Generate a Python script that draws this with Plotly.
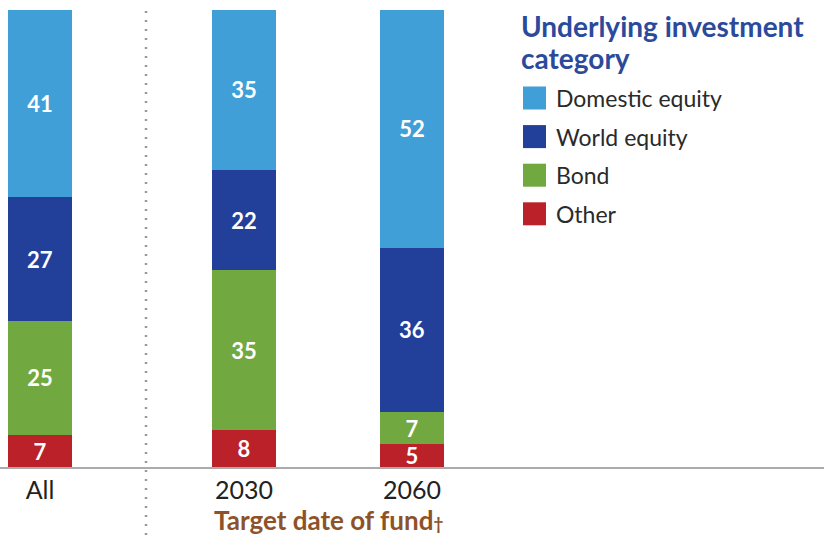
import plotly.graph_objects as go

# ---- data ----
categories = ["All", "2030", "2060"]
series_names = ["Other", "Bond", "World equity", "Domestic equity"]
other = [7, 8, 5]
bond = [25, 35, 7]
world_equity = [27, 22, 36]
domestic_equity = [41, 35, 52]
legend_title_lines = ["Underlying investment", "category"]
x_title = "Target date of fund<span style='font-size:17px'>†</span>"

# ---- layout / style ----
x_positions = [0, 1.214, 2.214]
colors = {"Other": "#BA2129", "Bond": "#72A840",
          "World equity": "#223F99", "Domestic equity": "#419FD8"}
W, H = 824, 535
plot_h = 467
FONT = "Lato"

values = {"Other": other, "Bond": bond,
          "World equity": world_equity, "Domestic equity": domestic_equity}

fig = go.Figure()
for name in series_names:
    fig.add_trace(go.Bar(
        x=x_positions, y=values[name], name=name,
        marker=dict(color=colors[name], line=dict(width=0)),
        width=0.381,
        text=values[name], texttemplate="<b>%{text}</b>",
        textposition="inside", insidetextanchor="middle", textangle=0,
        textfont=dict(color="white", size=22, family=FONT),
        showlegend=False, hoverinfo="skip",
    ))

fig.update_layout(
    barmode="stack",
    width=W, height=H,
    margin=dict(l=0, r=0, t=0, b=H - plot_h),
    plot_bgcolor="white", paper_bgcolor="white",
    uniformtext=dict(minsize=22, mode="show"),
    font=dict(family=FONT),
    xaxis=dict(range=[-0.238, 4.667], tickvals=x_positions, ticktext=categories,
               showgrid=False, zeroline=False, showline=True,
               linecolor="#ABABAB", linewidth=2, ticks="",
               tickfont=dict(size=25, color="#222222", family=FONT)),
    yaxis=dict(range=[0, 102.19], visible=False, showgrid=False),
)

# dotted separator
fig.add_shape(type="line", xref="paper", yref="paper",
              x0=146 / W, x1=146 / W, y0=-(H - plot_h) / plot_h, y1=(plot_h - 10) / plot_h,
              line=dict(color="#999999", width=2.5, dash="2px,7px"))

# x-axis title
fig.add_annotation(text="<b>" + x_title + "</b>", xref="paper", yref="paper",
                   x=328 / W, y=(plot_h - 520) / plot_h, showarrow=False,
                   xanchor="center", yanchor="middle",
                   font=dict(size=26, color="#8E5228", family=FONT))

# legend (manual)
for j, line in enumerate(legend_title_lines):
    fig.add_annotation(text="<b>" + line + "</b>", xref="paper", yref="paper",
                       x=519 / W, y=(plot_h - (26 + 32 * j)) / plot_h, showarrow=False,
                       xanchor="left", yanchor="middle", align="left",
                       font=dict(size=28, color="#2B4A9B", family=FONT))
legend_order = list(reversed(series_names))
for i, name in enumerate(legend_order):
    yc = 98 + i * 38.6
    fig.add_shape(type="rect", xref="paper", yref="paper",
                  x0=523 / W, x1=546 / W,
                  y0=(plot_h - (yc + 11.5)) / plot_h, y1=(plot_h - (yc - 11.5)) / plot_h,
                  fillcolor=colors[name], line=dict(width=0))
    fig.add_annotation(text=name, xref="paper", yref="paper",
                       x=554 / W, y=(plot_h - yc) / plot_h, showarrow=False,
                       xanchor="left", yanchor="middle",
                       font=dict(size=23, color="#2A2A2A", family=FONT))

fig.write_html("out.html", config={"displayModeBar": False},
               post_script="document.body.style.margin='0';")
